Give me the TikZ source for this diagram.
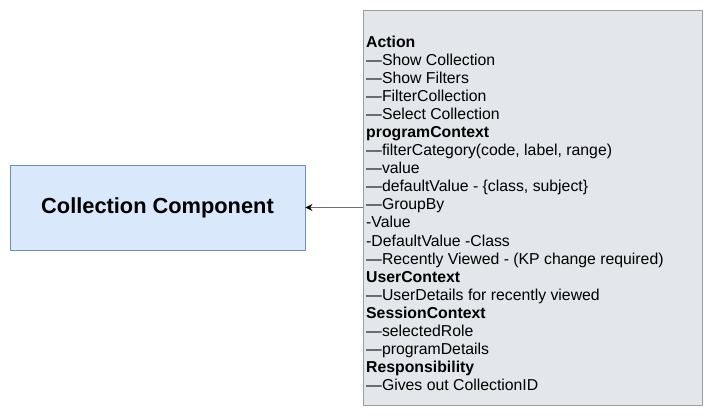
\documentclass[tikz,border=0pt]{standalone}
\usepackage{fontspec}
\setmainfont{Liberation Sans}
\usepackage[usenames]{xcolor}
\usepackage{tikz}
\usetikzlibrary{arrows.meta,positioning}

\definecolor{cmpfill}{HTML}{DAE8FC}
\definecolor{cmpline}{HTML}{6C8EBF}
\definecolor{ctxfill}{HTML}{E3E6EA}
\definecolor{ctxline}{HTML}{9A9DA1}
\definecolor{arrline}{HTML}{6E6E6E}

\tikzset{
  cmpbox/.style={draw=cmpline,fill=cmpfill,line width=0.8pt,minimum width=295pt,minimum height=85pt,
    font=\fontsize{21.8}{26}\selectfont\bfseries},
  ctxbox/.style={draw=ctxline,fill=ctxfill,line width=0.8pt,minimum width=339pt,minimum height=395pt,anchor=north west},
  ctxtext/.style={anchor=north west,inner sep=0pt,align=left,font=\fontsize{15.8}{18.05}\selectfont},
}

\begin{document}
\begin{tikzpicture}[line cap=round,line join=round,x=1pt,y=-1pt]
\useasboundingbox (0,0) rectangle (712,420);
% component on the left
\node[cmpbox] (comp) at (157.5,207.5) {Collection Component};
% context box on the right
\node[ctxbox] (ctx) at (362.5,10) {};
\node[ctxtext,xshift=3.5pt,yshift=-25.8pt] (ctxlist) at (ctx.north west) {%
\textbf{Action}\\
—Show Collection\\
—Show Filters\\
—FilterCollection\\
—Select Collection\\
\textbf{programContext}\\
—filterCategory(code, label, range)\\
—value\\
—defaultValue - \{class, subject\}\\
—GroupBy\\
-Value\\
-DefaultValue -Class\\
—Recently Viewed - (KP change required)\\
\textbf{UserContext}\\
—UserDetails for recently viewed\\
\textbf{SessionContext}\\
—selectedRole\\
—programDetails\\
\textbf{Responsibility}\\
—Gives out CollectionID};
\draw[arrline,line width=1.2pt,-{Stealth[length=7pt,width=7pt,color=black]}] (ctx.west |- comp.east) -- (comp.east);
\end{tikzpicture}
\end{document}
